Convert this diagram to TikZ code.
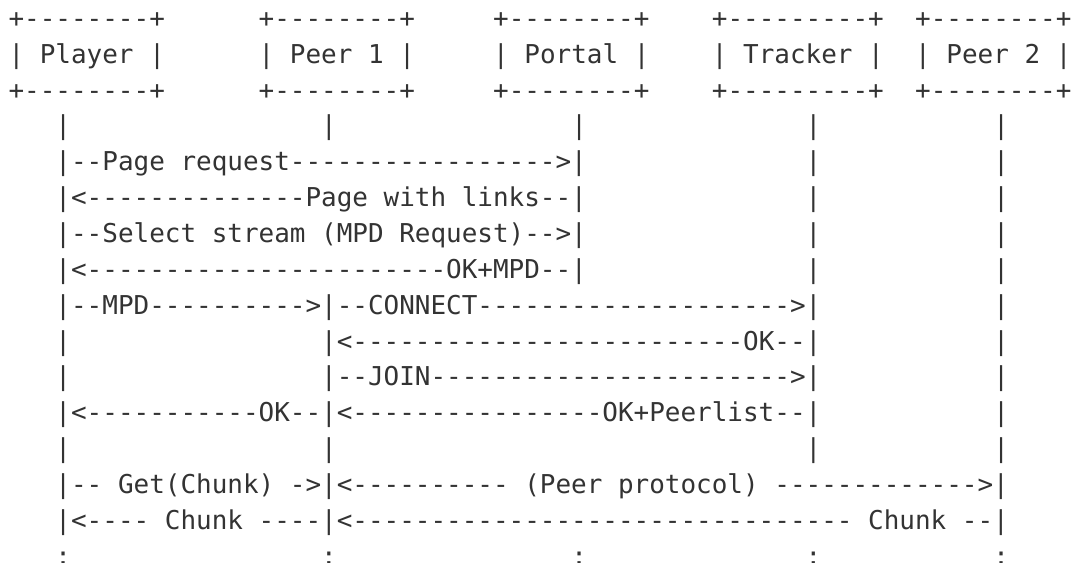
\documentclass[tikz,border=0pt]{standalone}
\usepackage{fontspec}
\setmonofont{DejaVu Sans Mono}
\definecolor{ink}{HTML}{333333}
\newcommand\dsh[1]{\ifnum#1>0 -\expandafter\dsh\expandafter{\the\numexpr#1-1\relax}\fi}
\tikzset{txt/.style={anchor=base west, inner sep=0pt, outer sep=0pt, text=ink,
  font=\ttfamily\fontsize{19.47pt}{23pt}\selectfont}}
\newcommand\seg[3]{\node[txt] (s#1x#2) at ({8.6+15.63*#2},{27.3+35.86*#1}) {#3};}
\newcommand\colonmark[1]{\node[txt] (s15x#1) at ({8.6+15.63*#1},{27.3+35.86*15}) {:};}
\begin{document}
\begin{tikzpicture}[x=0.75pt,y=-0.75pt]
\fill[white] (0,0) rectangle (1071,563);
\useasboundingbox (0,0) rectangle (1071,563);
\clip (0,0) rectangle (1071,563);
% participant boxes
\seg{0}{0}{+\dsh{8}+}\seg{0}{16}{+\dsh{8}+}\seg{0}{31}{+\dsh{8}+}\seg{0}{45}{+\dsh{9}+}\seg{0}{58}{+\dsh{8}+}
\seg{1}{0}{| Player |}\seg{1}{16}{| Peer 1 |}\seg{1}{31}{| Portal |}\seg{1}{45}{| Tracker |}\seg{1}{58}{| Peer 2 |}
\seg{2}{0}{+\dsh{8}+}\seg{2}{16}{+\dsh{8}+}\seg{2}{31}{+\dsh{8}+}\seg{2}{45}{+\dsh{9}+}\seg{2}{58}{+\dsh{8}+}
% row 3
\seg{3}{3}{|}\seg{3}{20}{|}\seg{3}{36}{|}\seg{3}{51}{|}\seg{3}{63}{|}
% rows 4-7
\seg{4}{3}{|--Page request\dsh{17}>|}\seg{4}{51}{|}\seg{4}{63}{|}
\seg{5}{3}{|<\dsh{14}Page with links--|}\seg{5}{51}{|}\seg{5}{63}{|}
\seg{6}{3}{|--Select stream (MPD Request)-->|}\seg{6}{51}{|}\seg{6}{63}{|}
\seg{7}{3}{|<\dsh{23}OK+MPD--|}\seg{7}{51}{|}\seg{7}{63}{|}
% row 8
\seg{8}{3}{|--MPD\dsh{10}>|--CONNECT\dsh{20}>|}\seg{8}{63}{|}
% rows 9-10
\seg{9}{3}{|}\seg{9}{20}{|<\dsh{25}OK--|}\seg{9}{63}{|}
\seg{10}{3}{|}\seg{10}{20}{|--JOIN\dsh{23}>|}\seg{10}{63}{|}
% row 11
\seg{11}{3}{|<\dsh{11}OK--|<\dsh{16}OK+Peerlist--|}\seg{11}{63}{|}
% row 12
\seg{12}{3}{|}\seg{12}{20}{|}\seg{12}{51}{|}\seg{12}{63}{|}
% rows 13-14
\seg{13}{3}{|-- Get(Chunk) ->|<\dsh{10} (Peer protocol) \dsh{13}>|}
\seg{14}{3}{|<---- Chunk ----|<\dsh{32} Chunk --|}
% row 15
\colonmark{3}\colonmark{20}\colonmark{36}\colonmark{51}\colonmark{63}
\end{tikzpicture}
\end{document}
